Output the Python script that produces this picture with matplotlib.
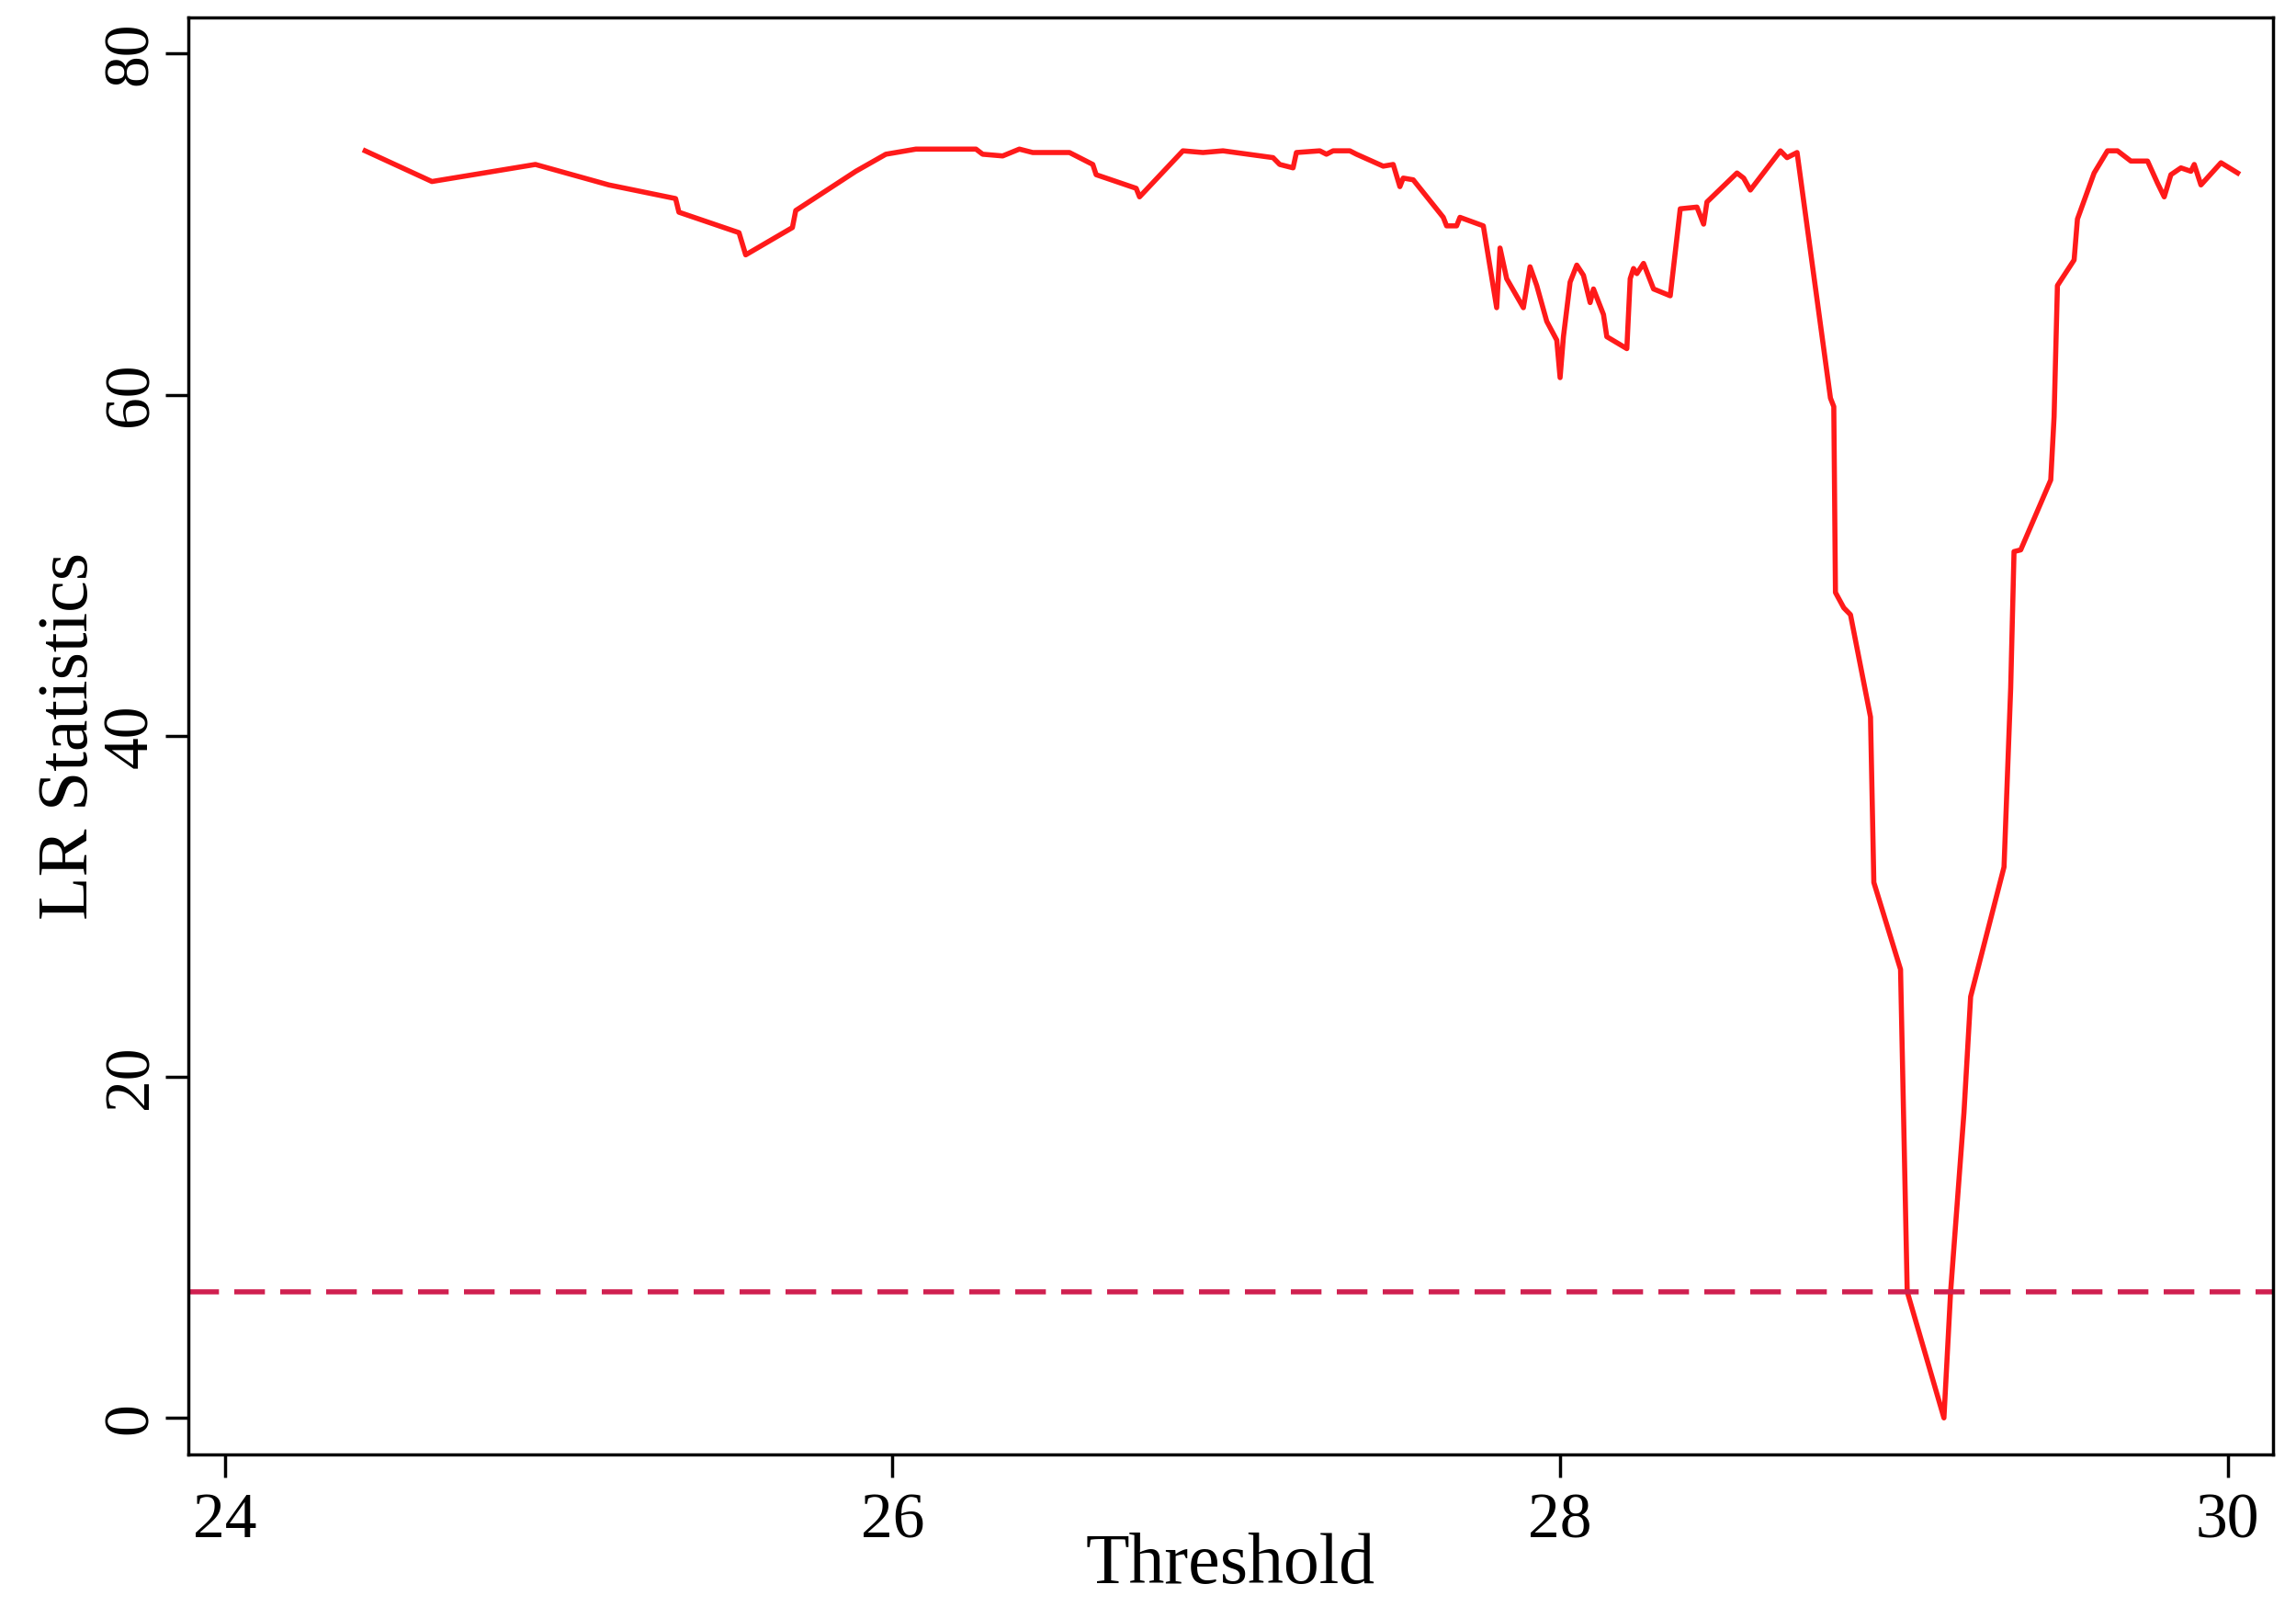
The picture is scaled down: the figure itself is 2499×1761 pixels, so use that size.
import numpy as np
from matplotlib import pyplot as plt

threshold = [24.42, 24.62, 24.93, 25.15, 25.35, 25.36, 25.54, 25.56, 25.70, 25.71, 25.89, 25.98,
             26.07, 26.25, 26.27, 26.33, 26.38, 26.42, 26.53, 26.60, 26.61, 26.73, 26.74, 26.87,
             26.93, 26.99, 27.14, 27.16, 27.20, 27.21, 27.28, 27.30, 27.32, 27.37, 27.39, 27.47,
             27.50, 27.52, 27.53, 27.56, 27.65, 27.66, 27.69, 27.70, 27.77, 27.81, 27.82, 27.84,
             27.89, 27.91, 27.93, 27.96, 27.99, 28.00, 28.01, 28.03, 28.05, 28.07, 28.09, 28.10,
             28.13, 28.14, 28.20, 28.21, 28.22, 28.23, 28.25, 28.28, 28.33, 28.36, 28.41, 28.43,
             28.44, 28.53, 28.55, 28.57, 28.66, 28.67, 28.68, 28.71, 28.81, 28.82, 28.825, 28.85,
             28.87, 28.93, 28.94, 29.02, 29.04, 29.15, 29.17, 29.21, 29.23, 29.33, 29.35, 29.36,
             29.38, 29.47, 29.48, 29.49, 29.54, 29.55, 29.60, 29.64, 29.67, 29.71, 29.76, 29.79,
             29.81, 29.83, 29.86, 29.89, 29.90, 29.92, 29.98, 30.03]
lr_stat = [74.3, 72.5, 73.5, 72.3, 71.5, 70.7, 69.5, 68.2, 69.8, 70.8, 73.1, 74.1,
           74.4, 74.4, 74.1, 74.0, 74.4, 74.2, 74.2, 73.5, 72.9, 72.1, 71.6, 74.3,
           74.2, 74.3, 73.9, 73.5, 73.3, 74.2, 74.3, 74.1, 74.3, 74.3, 74.1, 73.4,
           73.5, 72.2, 72.7, 72.6, 70.4, 69.9, 69.9, 70.4, 69.9, 65.1, 68.6, 66.8,
           65.1, 67.5, 66.4, 64.3, 63.2, 61.0, 63.4, 66.6, 67.6, 67.0, 65.4, 66.2,
           64.7, 63.4, 62.7, 66.8, 67.4, 67.1, 67.7, 66.2, 65.8, 70.9, 71.0, 70.0,
           71.3, 73.0, 72.7, 72.0, 74.3, 74.1, 73.9, 74.2, 59.8, 59.3, 48.4, 47.5,
           47.1, 41.1, 31.4, 26.3, 7.4, 0.0, 7.4, 17.9, 24.7, 32.3, 42.8, 50.8,
           50.9, 55.0, 58.7, 66.4, 67.9, 70.3, 73.0, 74.3, 74.3, 73.7, 73.7, 72.4,
           71.6, 72.9, 73.3, 73.1, 73.5, 72.3, 73.6, 73.0]
critical = 7.4

plt.rcParams['font.family'] = ['Liberation Serif', 'DejaVu Serif']
fig = plt.figure(figsize=(24.99, 17.61), dpi=100)
ax = fig.add_axes([0.082, 0.101, 0.908, 0.888])
ax.plot(threshold, lr_stat, color='#ff1a1a', lw=4)
ax.axhline(critical, color='#d02050', lw=4, ls=(0, (6, 3)))
ax.set_xlim(23.89, 30.136)
ax.set_ylim(-2.15, 82.1)
ax.set_xticks([24, 26, 28, 30])
ax.set_yticks([0, 20, 40, 60, 80])
ax.tick_params(labelsize=50, width=2.5, length=18)
ax.tick_params(axis='x', pad=12)
plt.setp(ax.get_yticklabels(), rotation=90, va='center')
for s in ax.spines.values():
    s.set_linewidth(2.5)
ax.set_xlabel('Threshold', fontsize=56, labelpad=-14)
ax.set_ylabel('LR Statistics', fontsize=56, labelpad=0)
fig.savefig('out.png')
